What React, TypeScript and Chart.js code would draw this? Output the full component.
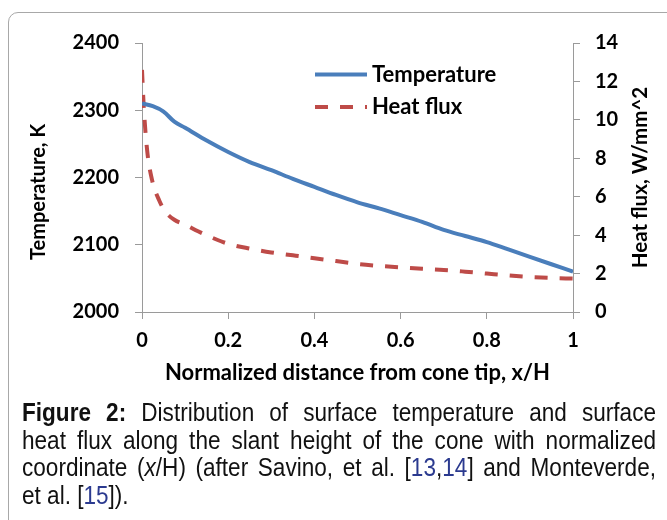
import React, { useEffect, useRef } from "react";
import { Chart, registerables } from "chart.js";
Chart.register(...registerables);

// ---- data ----
const tempX = [0, 0.025, 0.05, 0.075, 0.1, 0.15, 0.2, 0.25, 0.3, 0.35, 0.4, 0.45, 0.5, 0.55, 0.6, 0.65, 0.7, 0.75, 0.8, 0.85, 0.9, 0.95, 1.0];
const tempY = [2310, 2306, 2298, 2283, 2274, 2255, 2238, 2223, 2211, 2198, 2186, 2174, 2163, 2154, 2144, 2134, 2122, 2113, 2104, 2093, 2082, 2071, 2060];
const fluxX = [0, 0.004, 0.012, 0.023, 0.04, 0.055, 0.075, 0.1, 0.13, 0.17, 0.2, 0.25, 0.3, 0.35, 0.4, 0.45, 0.5, 0.55, 0.6, 0.65, 0.7, 0.75, 0.8, 0.85, 0.9, 0.95, 1.0];
const fluxY = [12.6, 10.7, 8.4, 6.9, 5.8, 5.2, 4.8, 4.55, 4.2, 3.8, 3.55, 3.3, 3.1, 2.95, 2.8, 2.65, 2.5, 2.4, 2.32, 2.25, 2.19, 2.1, 2.0, 1.9, 1.82, 1.77, 1.74];

const seriesLabels = ["Temperature", "Heat flux"];
const xTitle = "Normalized distance from cone tip, x/H";
const yTitle = "Temperature, K";
const y1Title = "Heat flux, W/mm^2";

const FONT = "Lato, 'Open Sans', sans-serif";
const BLUE = "#4A7EBB";
const RED = "#BE4B48";
const AXIS = "#9a9a9a";

const titlesPlugin = {
  id: "titles",
  afterDraw(chart: any) {
    const ctx = chart.ctx;
    const a = chart.chartArea;
    ctx.save();
    ctx.fillStyle = "#000";
    ctx.textAlign = "center";
    ctx.textBaseline = "middle";
    ctx.font = `bold 22px ${FONT}`;
    ctx.fillText(xTitle, (a.left + a.right) / 2, 373);
    ctx.font = `bold 20px ${FONT}`;
    ctx.save();
    ctx.translate(39, 192);
    ctx.rotate(-Math.PI / 2);
    ctx.fillText(yTitle, 0, 0);
    ctx.restore();
    ctx.font = `bold 20.5px ${FONT}`;
    ctx.save();
    ctx.translate(640, (a.top + a.bottom) / 2);
    ctx.rotate(-Math.PI / 2);
    ctx.fillText(y1Title, 0, 0);
    ctx.restore();
    // legend
    ctx.font = `bold 22px ${FONT}`;
    const rows = [74.5, 107];
    chart.data.datasets.forEach((ds: any, i: number) => {
      const y = rows[i];
      ctx.beginPath();
      ctx.strokeStyle = ds.borderColor;
      ctx.lineWidth = ds.borderWidth;
      ctx.setLineDash(ds.borderDash || []);
      ctx.moveTo(315, y);
      ctx.lineTo(367, y);
      ctx.stroke();
      ctx.setLineDash([]);
      ctx.textAlign = "left";
      ctx.fillStyle = "#000";
      ctx.fillText(ds.label, 372, y);
    });
    ctx.restore();
  },
};

const tickFont = { family: FONT, size: 20, weight: "bold" as const };

function ChartBox() {
  const ref = useRef<HTMLCanvasElement | null>(null);
  useEffect(() => {
    if (!ref.current) return;
    const chart = new Chart(ref.current, {
      type: "line",
      data: {
        datasets: [
          {
            label: seriesLabels[0],
            data: tempX.map((x, i) => ({ x, y: tempY[i] })),
            borderColor: BLUE,
            borderWidth: 4,
            pointRadius: 0,
            cubicInterpolationMode: "monotone",
            yAxisID: "y",
            fill: false,
          },
          {
            label: seriesLabels[1],
            data: fluxX.map((x, i) => ({ x, y: fluxY[i] })),
            borderColor: RED,
            borderWidth: 4,
            borderDash: [13, 12],
            borderCapStyle: "butt",
            pointRadius: 0,
            cubicInterpolationMode: "monotone",
            yAxisID: "y1",
            fill: false,
          },
        ],
      },
      options: {
        responsive: false,
        animation: false,
        layout: { padding: { top: 43, left: 0, right: 0, bottom: 0 } },
        plugins: { legend: { display: false }, tooltip: { enabled: false } },
        scales: {
          x: {
            type: "linear",
            min: 0,
            max: 1,
            ticks: {
              stepSize: 0.2,
              color: "#000",
              font: tickFont,
              padding: 10,
              callback: (v: any) => String(Math.round(Number(v) * 10) / 10),
            },
            grid: { drawOnChartArea: false, drawTicks: true, tickLength: 7, color: AXIS },
            border: { display: true, color: AXIS },
            afterFit: (s: any) => { s.height = 88; },
          },
          y: {
            position: "left",
            min: 2000,
            max: 2400,
            ticks: {
              stepSize: 100,
              color: "#000",
              font: tickFont,
              padding: 16,
              callback: (v: any) => String(v),
            },
            grid: { drawOnChartArea: false, drawTicks: true, tickLength: 7, color: AXIS },
            border: { display: true, color: AXIS },
            afterFit: (s: any) => { s.width = 142; },
          },
          y1: {
            position: "right",
            min: 0,
            max: 14,
            ticks: {
              stepSize: 2,
              color: "#000",
              font: tickFont,
              padding: 15,
              callback: (v: any) => String(v),
            },
            grid: { drawOnChartArea: false, drawTicks: true, tickLength: 7, color: AXIS },
            border: { display: true, color: AXIS },
            afterFit: (s: any) => { s.width = 94; },
          },
        },
      },
      plugins: [titlesPlugin],
    } as any);
    return () => chart.destroy();
  }, []);
  return (
    <canvas
      ref={ref}
      width={667}
      height={400}
      style={{ position: "absolute", left: 0, top: 0, width: 667, height: 400 }}
    />
  );
}

const SCALE = 0.885;
const capStyle: React.CSSProperties = {
  textAlign: "justify",
  textAlignLast: "justify" as any,
  whiteSpace: "nowrap",
};
const cite = { color: "#2b3a8f" };

export default function App() {
  return (
    <div
      style={{
        position: "fixed",
        left: 0,
        top: 0,
        width: 667,
        height: 520,
        overflow: "hidden",
        background: "#fff",
      }}
    >
      <div
        style={{
          position: "absolute",
          left: 8,
          top: 12,
          width: 700,
          height: 600,
          border: "1px solid #a8a8a8",
          borderRadius: 10,
          boxSizing: "border-box",
        }}
      />
      <ChartBox />
      <div
        style={{
          position: "absolute",
          left: 22,
          top: 399,
          width: 634 / SCALE,
          transform: `scaleX(${SCALE})`,
          transformOrigin: "0 0",
          fontFamily: "'Liberation Sans', Arial, sans-serif",
          fontSize: 25.5,
          lineHeight: "27.5px",
          color: "#111",
        }}
      >
        <div style={capStyle}>
          <b>Figure 2:</b> Distribution of surface temperature and surface
        </div>
        <div style={capStyle}>heat flux along the slant height of the cone with normalized</div>
        <div style={capStyle}>
          coordinate (<i>x</i>/H) (after Savino, et al. [<span style={cite}>13</span>,
          <span style={cite}>14</span>] and Monteverde,
        </div>
        <div>
          et al. [<span style={cite}>15</span>]).
        </div>
      </div>
    </div>
  );
}
